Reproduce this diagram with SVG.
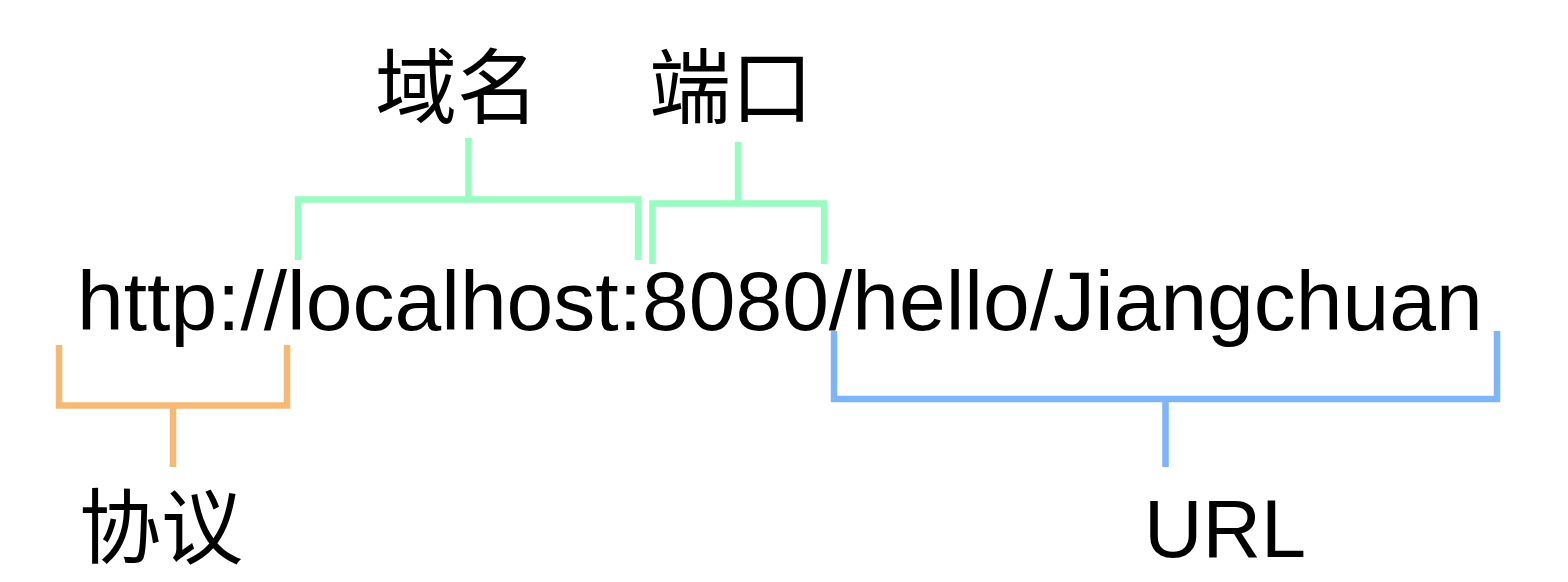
<svg xmlns="http://www.w3.org/2000/svg" width="1568" height="582" viewBox="0 0 1568 582">
<style>
.t{font-family:"Liberation Sans",Arial,"Noto Sans CJK SC",sans-serif;fill:#000}
.c{font-family:"Noto Sans CJK SC","Liberation Sans",sans-serif;fill:#000;text-anchor:middle}
.b{fill:none;stroke-width:6.5;stroke-linecap:butt;stroke-linejoin:miter}
.g{stroke:#98FBBF}.o{stroke:#F5B975}.bl{stroke:#7DB4FA}
</style>
<rect width="1568" height="582" fill="#fff"/>
<g id="url-text"><text class="t" x="77" y="330" font-size="84">http://localhost:8080/hello/Jiangchuan</text></g>
<g id="label-domain"><text class="c" x="457" y="117" font-size="82">域名</text></g>
<g id="label-port"><text class="c" x="731" y="117" font-size="82">端口</text></g>
<g id="label-protocol"><text class="c" x="161" y="557" font-size="82">协议</text></g>
<g id="label-url"><text class="t" x="1225" y="557" font-size="81" text-anchor="middle">URL</text></g>
<g id="connectors">
<path class="b g" d="M298 260V199.5H638V260M468.5 199.5V138"/>
<path class="b g" d="M652.5 264V203.5H824V264M738 203.5V142"/>
<path class="b o" d="M59 345V405.5H287V345M173 405.5V467"/>
<path class="b bl" d="M834 331V399H1497V331M1165.5 399V467"/>
</g>
</svg>
